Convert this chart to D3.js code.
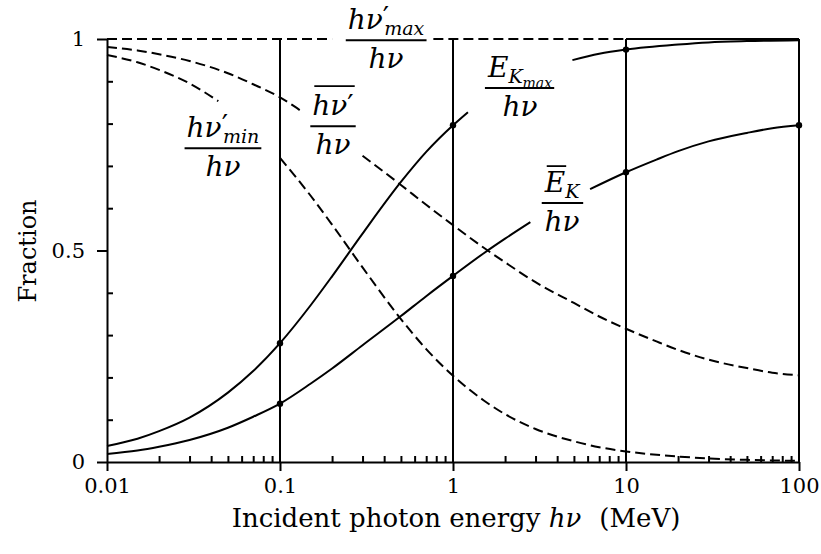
<!DOCTYPE html>
<html>
<head>
<meta charset="utf-8">
<script src="https://cdn.jsdelivr.net/npm/d3@7"></script>
<style>
body { margin: 0; background: #fff; }
text { fill: #000; font-family: "DejaVu Serif", serif; }
.math { font-style: italic; font-size: 28px; }
</style>
</head>
<body>
<div id="chart"></div>
<script>
// Compton fractions vs incident photon energy, log x axis

const width = 821
const height = 554

// axis ticks
const energyTicks = [0.01, 0.1, 1, 10, 100]
const energyLabels = ['0.01', '0.1', '1', '10', '100']
const fracTicks = [0, 0.5, 1]
const fracLabels = ['0', '0.5', '1']
const fracMinor = [0.1, 0.2, 0.3, 0.4, 0.6, 0.7, 0.8, 0.9]
const decadeLines = [0.1, 1, 10, 100]

// hv'max / hv  (null = gap for the label)
const maxPhotonE = [0.01, 0.2, 0.3, 0.77, 100]
const maxPhotonF = [1, 1, null, 1, 1]

// hv'min / hv
const minPhotonE = [0.01, 0.015, 0.02, 0.03, 0.044, 0.07, 0.1, 0.15, 0.2, 0.3, 0.5, 0.7, 1, 1.5, 2, 3, 5, 7, 10, 20, 30, 50, 100]
const minPhotonF = [0.962, 0.945, 0.927, 0.895, 0.853, null, 0.719, 0.630, 0.561, 0.460, 0.338, 0.267, 0.204, 0.146, 0.113, 0.078, 0.049, 0.035, 0.025, 0.013, 0.0084, 0.0051, 0.0026]

// mean hv' / hv
const meanPhotonE = [0.01, 0.015, 0.02, 0.03, 0.05, 0.07, 0.1, 0.13, 0.2, 0.3, 0.5, 0.7, 1, 1.5, 2, 3, 5, 7, 10, 15, 20, 30, 50, 70, 100]
const meanPhotonF = [0.981, 0.973, 0.964, 0.948, 0.919, 0.893, 0.862, 0.832, null, 0.724, 0.655, 0.608, 0.560, 0.507, 0.472, 0.425, 0.376, 0.344, 0.315, 0.285, 0.265, 0.242, 0.222, 0.211, 0.205]

// E_Kmax / hv
const maxKinE = [0.01, 0.015, 0.02, 0.03, 0.05, 0.07, 0.1, 0.15, 0.2, 0.3, 0.5, 0.7, 1, 1.22, 2.5, 4.9, 7, 10, 20, 30, 50, 100]
const maxKinF = [0.038, 0.055, 0.073, 0.105, 0.164, 0.215, 0.281, 0.370, 0.439, 0.540, 0.662, 0.733, 0.796, 0.827, null, 0.950, 0.965, 0.975, 0.987, 0.992, 0.995, 0.997]

// mean E_K / hv
const meanKinE = [0.01, 0.015, 0.02, 0.03, 0.05, 0.07, 0.1, 0.15, 0.2, 0.3, 0.5, 0.7, 1, 1.5, 2, 2.8, 4, 6.2, 10, 15, 20, 30, 50, 70, 100]
const meanKinF = [0.019, 0.027, 0.036, 0.052, 0.081, 0.107, 0.138, 0.185, 0.221, 0.276, 0.345, 0.392, 0.440, 0.493, 0.528, 0.567, null, 0.645, 0.685, 0.715, 0.735, 0.758, 0.778, 0.789, 0.796]

// marked points
const maxKinDotE = [0.1, 1, 10]
const maxKinDotF = [0.281, 0.796, 0.975]
const meanKinDotE = [0.1, 1, 10, 100]
const meanKinDotF = [0.138, 0.440, 0.685, 0.796]

const x = d3.scaleLog().domain([0.01, 100]).range([107, 799])
const y = d3.scaleLinear().domain([0, 1]).range([462, 39])

const svg = d3.select('#chart')
    .append('svg')
    .attr('width', width)
    .attr('height', height)

// vertical lines at each decade
svg.append('g')
    .selectAll('line')
    .data(decadeLines)
    .join('line')
    .attr('x1', d => x(d))
    .attr('x2', d => x(d))
    .attr('y1', y(0))
    .attr('y2', y(1))
    .attr('stroke', '#000')
    .attr('stroke-width', 2)

// solid top edge from 10 to 100
svg.append('line')
    .attr('x1', x(10)).attr('x2', x(100))
    .attr('y1', y(1)).attr('y2', y(1))
    .attr('stroke', '#000')
    .attr('stroke-width', 2)

// axes
svg.append('g')
    .attr('transform', `translate(0,${y(0)})`)
    .call(d3.axisBottom(x).tickValues(energyTicks)
        .tickFormat((d, i) => energyLabels[i])
        .tickSize(9).tickSizeOuter(0).tickPadding(7))

const minorE = [0.01, 0.1, 1, 10].flatMap(d => d3.range(2, 10).map(k => k * d))
svg.append('g')
    .attr('transform', `translate(0,${y(0)})`)
    .call(d3.axisBottom(x).tickValues(minorE).tickSize(-6).tickFormat(''))
    .call(g => g.select('.domain').remove())

svg.append('g')
    .attr('transform', `translate(${x(0.01)},0)`)
    .call(d3.axisLeft(y).tickValues(fracTicks)
        .tickFormat((d, i) => fracLabels[i])
        .tickSize(10).tickSizeOuter(0).tickPadding(12))

svg.append('g')
    .attr('transform', `translate(${x(0.01)},0)`)
    .call(d3.axisLeft(y).tickValues(fracMinor).tickSize(-6).tickFormat(''))
    .call(g => g.select('.domain').remove())

svg.selectAll('.domain, .tick line')
    .attr('stroke', '#000')
    .attr('stroke-width', 2)

svg.selectAll('.tick text')
    .attr('font-size', 21)
    .attr('fill', '#000')
svg.selectAll('g').attr('font-family', null)

// axis titles
const xTitle = svg.append('text')
    .attr('x', 456)
    .attr('y', 527)
    .attr('text-anchor', 'middle')
    .attr('font-size', 26)
xTitle.append('tspan').text('Incident photon energy ')
xTitle.append('tspan').attr('font-style', 'italic').text('hν')
xTitle.append('tspan').attr('dx', 18).text('(MeV)')

svg.append('text')
    .attr('transform', 'translate(36,251) rotate(-90)')
    .attr('text-anchor', 'middle')
    .attr('font-size', 24)
    .text('Fraction')

// curves
const line = d3.line()
    .defined(d => d[1] != null)
    .x(d => x(d[0]))
    .y(d => y(d[1]))
    .curve(d3.curveMonotoneX)

const curves = [
    {e: maxPhotonE, f: maxPhotonF, dash: '10,5'},
    {e: minPhotonE, f: minPhotonF, dash: '10,5'},
    {e: meanPhotonE, f: meanPhotonF, dash: '10,5'},
    {e: maxKinE, f: maxKinF, dash: null},
    {e: meanKinE, f: meanKinF, dash: null}
]

svg.append('g')
    .selectAll('path')
    .data(curves)
    .join('path')
    .attr('d', c => line(d3.zip(c.e, c.f)))
    .attr('fill', 'none')
    .attr('stroke', '#000')
    .attr('stroke-width', 2)
    .attr('stroke-dasharray', c => c.dash)

const dots = d3.zip(maxKinDotE, maxKinDotF).concat(d3.zip(meanKinDotE, meanKinDotF))
svg.append('g')
    .selectAll('circle')
    .data(dots)
    .join('circle')
    .attr('cx', d => x(d[0]))
    .attr('cy', d => y(d[1]))
    .attr('r', 3.2)
    .attr('fill', '#000')

// fraction labels  (something / hν)
function fracLabel(e, f, build) {
    const g = svg.append('g').attr('transform', `translate(${x(e)},${y(f)})`)
    const num = g.append('text').attr('class', 'math').attr('text-anchor', 'middle').attr('y', -11)
    build(num)
    g.append('text').attr('class', 'math').attr('text-anchor', 'middle').attr('y', 28).text('hν')
    const nb = num.node().getBBox()
    g.append('line')
        .attr('x1', nb.x - 2).attr('x2', nb.x + nb.width + 2)
        .attr('y1', 0).attr('y2', 0)
        .attr('stroke', '#000').attr('stroke-width', 2)
    return {g, num}
}

function overline(lab, from, to, yy) {
    const a = lab.num.node().getExtentOfChar(from)
    const b = lab.num.node().getExtentOfChar(to)
    lab.g.append('line')
        .attr('x1', a.x + 2).attr('x2', b.x + b.width + 1)
        .attr('y1', yy).attr('y2', yy)
        .attr('stroke', '#000').attr('stroke-width', 1.8)
}

fracLabel(0.41, 0.997, t => {
    t.append('tspan').text('hν')
    t.append('tspan').attr('font-style', 'normal').attr('dy', -2).text('′')
    t.append('tspan').attr('dx', -5).attr('dy', 8).attr('font-size', 19).text('max')
})

fracLabel(0.0468, 0.742, t => {
    t.append('tspan').text('hν')
    t.append('tspan').attr('font-style', 'normal').attr('dy', -2).text('′')
    t.append('tspan').attr('dx', -5).attr('dy', 8).attr('font-size', 19).text('min')
})

const meanLab = fracLabel(0.2025, 0.794, t => {
    t.append('tspan').text('hν')
    t.append('tspan').attr('font-style', 'normal').text('′')
})
overline(meanLab, 0, 2, -40)

fracLabel(2.44, 0.884, t => {
    t.append('tspan').text('E')
    t.append('tspan').attr('dy', 6).attr('font-size', 19).text('K')
    t.append('tspan').attr('dy', 5).attr('font-size', 14).text('max')
})

const kinLab = fracLabel(4.27, 0.612, t => {
    t.append('tspan').text('E')
    t.append('tspan').attr('dy', 6).attr('font-size', 19).text('K')
})
overline(kinLab, 0, 0, -37)
</script>
</body>
</html>
